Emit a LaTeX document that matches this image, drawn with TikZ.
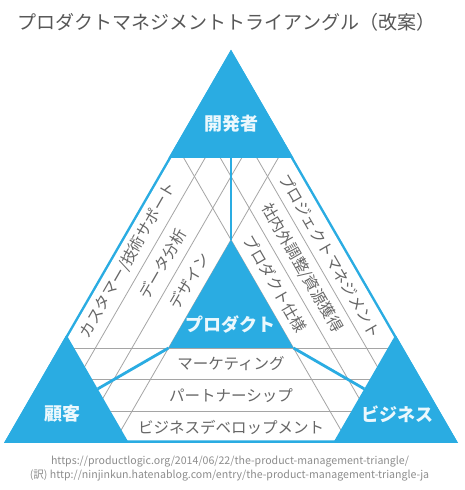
\documentclass[tikz,border=0pt]{standalone}
\usepackage{fontspec}
\setmainfont{Noto Sans CJK JP}
\usetikzlibrary{calc}
\definecolor{pmblue}{RGB}{42,172,226}
\definecolor{pmgrey}{RGB}{102,102,102}
\definecolor{pmline}{RGB}{165,165,165}
\definecolor{pmwhite}{RGB}{235,248,253}

\begin{document}
\begin{tikzpicture}[x=1pt,y=1pt,
  corner/.style={fill=pmblue},
  gridline/.style={pmline,line width=0.8pt},
  link/.style={pmblue,line width=2.8pt},
  role/.style={text=pmwhite,font=\fontsize{18}{18}\selectfont\bfseries,inner sep=0},
  area/.style={text=pmgrey,font=\fontsize{15.5}{15.5}\selectfont,inner sep=0},
  source/.style={text=gray!90,font=\fontsize{10.6}{10.6}\selectfont,inner sep=0}]
\useasboundingbox (0,0) rectangle (465,490);

% Outer triangle
\coordinate (apex) at (231,440.2);
\coordinate (bl) at (4,47);
\coordinate (br) at (458,47);
\coordinate (mid) at (231,178.07);
\fill[pmblue] (apex) -- (bl) -- (br) -- cycle;
\fill[white] (231,435.2) -- (8.33,49.5) -- (453.67,49.5) -- cycle;

% Strips, one set per side
\begin{scope}
\clip (231,435.2) -- (8.33,49.5) -- (453.67,49.5) -- cycle;
\foreach \r in {0,120,240}
  \foreach \k in {1,2,3}
    \draw[gridline,rotate around={\r:(mid)}] (-100,47+\k*31.667) -- (565,47+\k*31.667);
\end{scope}

% Corner roles
\coordinate (devl) at (168.53,332);
\coordinate (devr) at (293.47,332);
\coordinate (custtop) at (66.47,155.2);
\coordinate (custr) at (128.93,47);
\coordinate (biztop) at (395.53,155.2);
\coordinate (bizl) at (333.07,47);
\fill[corner] (apex) -- (devl) -- (devr) -- cycle;
\fill[corner] (bl) -- (custtop) -- (custr) -- cycle;
\fill[corner] (br) -- (biztop) -- (bizl) -- cycle;

% Product in the middle
\coordinate (prodtop) at (231,250.2);
\coordinate (prodleft) at (168.53,142);
\coordinate (prodright) at (293.47,142);
\fill[corner] (prodtop) -- (prodleft) -- (prodright) -- cycle;

% Links
\coordinate (devmid) at (231,332);
\coordinate (custmid) at (97.7,101.1);
\coordinate (bizmid) at (364.3,101.1);
\draw[link] (devmid) -- (prodtop);
\draw[link] (prodleft) -- (custmid);
\draw[link] (prodright) -- (bizmid);

\node[role] (dev) at (231,366.5) {開発者};
\node[role] (cust) at (62.5,76) {顧客};
\node[role] (biz) at (397.5,76) {ビジネス};
\node[role] (prod) at (230,165) {プロダクト};

% Strip labels
\node[area,rotate=60] (support) at (128,230) {カスタマー/技術サポート};
\node[area,rotate=60] (data) at (162.5,226) {データ分析};
\node[area,rotate=60] (design) at (189,209) {デザイン};
\node[area,rotate=-60] (pm) at (330.5,234) {プロジェクトマネジメント};
\node[area,rotate=-60] (coord) at (302,222) {社内外調整/資源獲得};
\node[area,rotate=-60] (spec) at (275,206) {プロダクト仕様};
\node[area] (mkt) at (231,126) {マーケティング};
\node[area] (partner) at (231,94.5) {パートナーシップ};
\node[area] (bizdev) at (231,63) {ビジネスデベロップメント};

% Title and sources
\node[text=pmgrey!85!black,font=\fontsize{19}{19}\selectfont,inner sep=0] (title) at (226.5,468) {プロダクトマネジメントトライアングル（改案）};
\node[source] (src) at (230,28) {https://productlogic.org/2014/06/22/the-product-management-triangle/};
\node[source] (trans) at (229.5,15) {(訳) http://ninjinkun.hatenablog.com/entry/the-product-management-triangle-ja};
\end{tikzpicture}
\end{document}
